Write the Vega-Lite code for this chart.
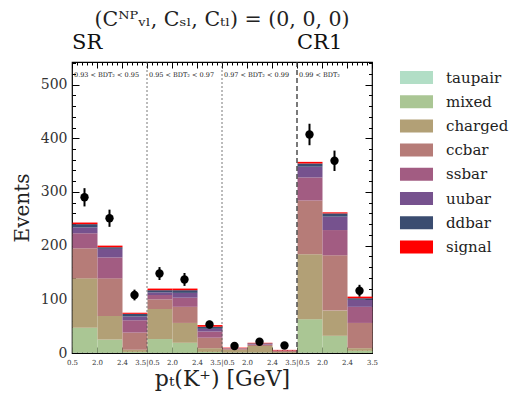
{
  "$schema": "https://vega.github.io/schema/vega-lite/v6.json",
  "width": 300,
  "height": 291,
  "autosize": {"type": "none"},
  "padding": {"left": 72, "top": 62, "right": 140, "bottom": 44},
  "background": "white",
  "config": {
    "font": "DejaVu Serif",
    "view": {"stroke": "black", "strokeWidth": 1.2},
    "axis": {"grid": false, "domain": false, "tickColor": "black", "labelColor": "#333", "titleColor": "#222", "titleFontWeight": "normal", "labelFont": "DejaVu Serif", "titleFont": "DejaVu Serif"}
  },
  "title": {"text": "(Cᴺᴾᵥₗ, Cₛₗ, Cₜₗ) = (0, 0, 0)", "fontSize": 20.5, "fontWeight": "normal", "font": "DejaVu Serif", "offset": 2, "anchor": "middle", "frame": "group", "color": "#222"},
  "datasets": {
    "mc": [
      {"lo": 0, "hi": 1, "taupair": 0.5, "mixed": 46.5, "charged": 92, "ccbar": 56, "ssbar": 28, "uubar": 11, "ddbar": 6, "signal": 3},
      {"lo": 1, "hi": 2, "taupair": 0.3, "mixed": 24.7, "charged": 44, "ccbar": 70, "ssbar": 39, "uubar": 16, "ddbar": 3, "signal": 3},
      {"lo": 2, "hi": 3, "taupair": 0.1, "mixed": 1.9, "charged": 4, "ccbar": 32, "ssbar": 23, "uubar": 7, "ddbar": 5, "signal": 2},
      {"lo": 3, "hi": 4, "taupair": 0.3, "mixed": 25.7, "charged": 56, "ccbar": 18, "ssbar": 8, "uubar": 5, "ddbar": 4, "signal": 3},
      {"lo": 4, "hi": 5, "taupair": 0.2, "mixed": 18.8, "charged": 37, "ccbar": 30, "ssbar": 17, "uubar": 9, "ddbar": 5, "signal": 3},
      {"lo": 5, "hi": 6, "taupair": 0.1, "mixed": 1.9, "charged": 7, "ccbar": 19.5, "ssbar": 11.5, "uubar": 5, "ddbar": 4, "signal": 3},
      {"lo": 6, "hi": 7, "taupair": 0.1, "mixed": 0.9, "charged": 5, "ccbar": 2, "ssbar": 0.5, "uubar": 0.3, "ddbar": 0.2, "signal": 1},
      {"lo": 7, "hi": 8, "taupair": 0.1, "mixed": 0.9, "charged": 12, "ccbar": 2, "ssbar": 1, "uubar": 1, "ddbar": 1, "signal": 1},
      {"lo": 8, "hi": 9, "taupair": 0.05, "mixed": 0.25, "charged": 1.5, "ccbar": 2, "ssbar": 0.5, "uubar": 0.3, "ddbar": 0.2, "signal": 1},
      {"lo": 9, "hi": 10, "taupair": 0.5, "mixed": 62.5, "charged": 121, "ccbar": 100, "ssbar": 43, "uubar": 20, "ddbar": 6, "signal": 3},
      {"lo": 10, "hi": 11, "taupair": 0.3, "mixed": 31.7, "charged": 47, "ccbar": 103, "ssbar": 47, "uubar": 25, "ddbar": 6, "signal": 2},
      {"lo": 11, "hi": 12, "taupair": 0.1, "mixed": 3.9, "charged": 5, "ccbar": 47, "ssbar": 30, "uubar": 13, "ddbar": 3, "signal": 3}
    ],
    "comps": [
      {"c": "taupair", "k": 0}, {"c": "mixed", "k": 1}, {"c": "charged", "k": 2}, {"c": "ccbar", "k": 3},
      {"c": "ssbar", "k": 4}, {"c": "uubar", "k": 5}, {"c": "ddbar", "k": 6}, {"c": "signal", "k": 7}
    ],
    "obs": [
      {"x": 0.5, "n": 290, "lo": 273, "hi": 307},
      {"x": 1.5, "n": 251, "lo": 235, "hi": 267},
      {"x": 2.5, "n": 108, "lo": 98, "hi": 118},
      {"x": 3.5, "n": 148, "lo": 136, "hi": 160},
      {"x": 4.5, "n": 137, "lo": 125, "hi": 149},
      {"x": 5.5, "n": 53, "lo": 46, "hi": 60},
      {"x": 6.5, "n": 13, "lo": 9.4, "hi": 16.6},
      {"x": 7.5, "n": 21, "lo": 16.4, "hi": 25.6},
      {"x": 8.5, "n": 14, "lo": 10.3, "hi": 17.7},
      {"x": 9.5, "n": 407, "lo": 387, "hi": 427},
      {"x": 10.5, "n": 358, "lo": 339, "hi": 377},
      {"x": 11.5, "n": 116, "lo": 105, "hi": 127}
    ],
    "dots": [{"p": 3}, {"p": 6}],
    "dash": [{"p": 9}],
    "regions": [
      {"x": 0, "t": "0.93 < BDT₂ < 0.95"},
      {"x": 3, "t": "0.95 < BDT₂ < 0.97"},
      {"x": 6, "t": "0.97 < BDT₂ < 0.99"},
      {"x": 9, "t": "0.99 < BDT₂"}
    ],
    "heads": [{"x": 0, "t": "SR"}, {"x": 9, "t": "CR1"}]
  },
  "resolve": {"axis": {"x": "independent", "y": "independent"}},
  "layer": [
    {
      "data": {"name": "mc"},
      "transform": [
        {"fold": ["taupair", "mixed", "charged", "ccbar", "ssbar", "uubar", "ddbar", "signal"], "as": ["c", "v"]},
        {"lookup": "c", "from": {"data": {"name": "comps"}, "key": "c", "fields": ["k"]}}
      ],
      "mark": {"type": "bar", "binSpacing": 0, "strokeWidth": 0},
      "encoding": {
        "x": {"field": "lo", "type": "quantitative", "bin": "binned",
          "scale": {"domain": [0, 12], "nice": false, "zero": false},
          "axis": {"orient": "bottom", "values": [0,1,2,3,4,5,6,7,8,9,10,11,12],
            "labelExpr": "['0.5','2.0','2.4','3.5|0.5','2.0','2.4','3.5|0.5','2.0','2.4','3.5|0.5','2.0','2.4','3.5'][datum.value]",
            "tickSize": -6, "labelPadding": 11, "labelFontSize": 7, "labelFlush": false, "labelOverlap": false,
            "title": "pₜ(K⁺) [GeV]", "titleFontSize": 22, "titlePadding": 3}},
        "x2": {"field": "hi"},
        "y": {"field": "v", "type": "quantitative", "stack": "zero",
          "scale": {"domain": [0, 542], "nice": false},
          "axis": {"orient": "left", "values": [0, 100, 200, 300, 400, 500], "tickSize": -7,
            "labelPadding": 12, "labelFontSize": 14, "title": "Events", "titleFontSize": 20, "titlePadding": 8}},
        "color": {"field": "c", "type": "nominal",
          "scale": {"domain": ["taupair", "mixed", "charged", "ccbar", "ssbar", "uubar", "ddbar", "signal"],
            "range": ["#b2dec6", "#aac694", "#b2a076", "#b67c78", "#a25c82", "#76528e", "#3a4c70", "#ff0000"]},
          "legend": {"title": null, "orient": "right", "offset": 28, "padding": 8,
            "symbolType": "M-2.54,-1h5.08v2h-5.08z", "symbolSize": 169, "symbolStrokeWidth": 0, "symbolOpacity": 1,
            "labelFontSize": 15, "labelFont": "DejaVu Serif", "labelColor": "#222", "labelOffset": 22, "rowPadding": 8.2}},
        "order": {"field": "k", "type": "quantitative"}
      }
    },
    {
      "data": {"name": "dots"},
      "mark": {"type": "rule", "color": "#555", "strokeWidth": 0.8, "strokeDash": [2, 2]},
      "encoding": {
        "x": {"field": "p", "type": "quantitative",
          "axis": {"orient": "top", "values": [0,0.2,0.4,0.6,0.8,1,1.2,1.4,1.6,1.8,2,2.2,2.4,2.6,2.8,3,3.2,3.4,3.6,3.8,4,4.2,4.4,4.6,4.8,5,5.2,5.4,5.6,5.8,6,6.2,6.4,6.6,6.8,7,7.2,7.4,7.6,7.8,8,8.2,8.4,8.6,8.8,9,9.2,9.4,9.6,9.8,10,10.2,10.4,10.6,10.8,11,11.2,11.4,11.6,11.8,12],
            "labels": false, "tickSize": -3, "title": null}}
      }
    },
    {
      "data": {"name": "dash"},
      "mark": {"type": "rule", "color": "#333", "strokeWidth": 1.3, "strokeDash": [5, 3]},
      "encoding": {
        "x": {"field": "p", "type": "quantitative", "axis": null}
      }
    },
    {
      "data": {"name": "obs"},
      "mark": {"type": "rule", "color": "black", "strokeWidth": 2},
      "encoding": {
        "x": {"field": "x", "type": "quantitative",
          "axis": {"orient": "top", "values": [0,1,2,3,4,5,6,7,8,9,10,11,12], "labels": false, "tickSize": -6, "title": null}},
        "y": {"field": "lo", "type": "quantitative",
          "axis": {"orient": "right", "values": [0, 100, 200, 300, 400, 500], "labels": false, "tickSize": -7, "title": null}},
        "y2": {"field": "hi"}
      }
    },
    {
      "data": {"name": "obs"},
      "mark": {"type": "circle", "color": "black", "opacity": 1, "size": 70},
      "encoding": {
        "x": {"field": "x", "type": "quantitative",
          "axis": {"orient": "bottom", "values": [0,0.2,0.4,0.6,0.8,1,1.2,1.4,1.6,1.8,2,2.2,2.4,2.6,2.8,3,3.2,3.4,3.6,3.8,4,4.2,4.4,4.6,4.8,5,5.2,5.4,5.6,5.8,6,6.2,6.4,6.6,6.8,7,7.2,7.4,7.6,7.8,8,8.2,8.4,8.6,8.8,9,9.2,9.4,9.6,9.8,10,10.2,10.4,10.6,10.8,11,11.2,11.4,11.6,11.8,12],
            "labels": false, "tickSize": -3, "title": null}},
        "y": {"field": "n", "type": "quantitative",
          "axis": {"orient": "left", "values": [0,20,40,60,80,100,120,140,160,180,200,220,240,260,280,300,320,340,360,380,400,420,440,460,480,500,520,540],
            "labels": false, "tickSize": -3.5, "title": null}}
      }
    },
    {
      "data": {"name": "regions"},
      "mark": {"type": "text", "align": "left", "baseline": "middle", "dx": 2, "fontSize": 6.5, "color": "#222"},
      "encoding": {
        "x": {"field": "x", "type": "quantitative", "axis": null},
        "y": {"datum": 518, "type": "quantitative",
          "axis": {"orient": "right", "values": [0,20,40,60,80,100,120,140,160,180,200,220,240,260,280,300,320,340,360,380,400,420,440,460,480,500,520,540],
            "labels": false, "tickSize": -3.5, "title": null}},
        "text": {"field": "t"}
      }
    },
    {
      "data": {"name": "heads"},
      "mark": {"type": "text", "align": "left", "baseline": "alphabetic", "dy": -13, "fontSize": 21, "color": "#111"},
      "encoding": {
        "x": {"field": "x", "type": "quantitative", "axis": null},
        "y": {"datum": 542, "type": "quantitative", "axis": null},
        "text": {"field": "t"}
      }
    }
  ]
}
